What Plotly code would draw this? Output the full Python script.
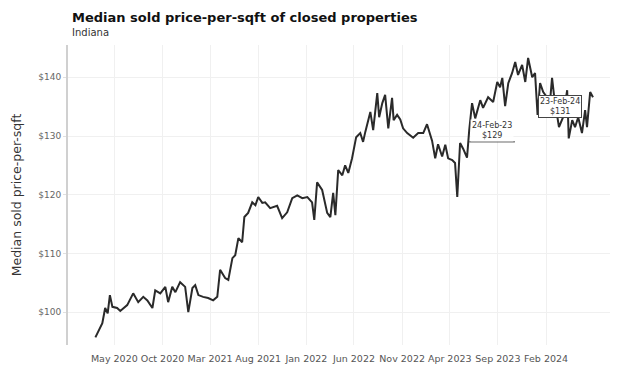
import plotly.graph_objects as go
import pandas as pd

# ---- data ----
dates = [
    "2020-03-02", "2020-03-24", "2020-04-02", "2020-04-10", "2020-04-17", "2020-04-25",
    "2020-05-10", "2020-05-20", "2020-06-11", "2020-06-30", "2020-07-16", "2020-08-01",
    "2020-08-14", "2020-08-30", "2020-09-08", "2020-09-24", "2020-10-10", "2020-10-19",
    "2020-11-01", "2020-11-11", "2020-11-26", "2020-12-12", "2020-12-22", "2021-01-04",
    "2021-01-13", "2021-01-23", "2021-02-07", "2021-02-23", "2021-03-11", "2021-03-24",
    "2021-04-02", "2021-04-18", "2021-04-28", "2021-05-11", "2021-05-20", "2021-05-30",
    "2021-06-11", "2021-06-18", "2021-06-30", "2021-07-13", "2021-07-23", "2021-08-01",
    "2021-08-14", "2021-08-23", "2021-09-08", "2021-09-30", "2021-10-16", "2021-11-01",
    "2021-11-17", "2021-12-03", "2021-12-19", "2022-01-04", "2022-01-19", "2022-01-26",
    "2022-02-04", "2022-02-20", "2022-03-08", "2022-03-18", "2022-03-27", "2022-04-03",
    "2022-04-12", "2022-04-25", "2022-05-04", "2022-05-14", "2022-05-26", "2022-06-08",
    "2022-06-21", "2022-06-30", "2022-07-07", "2022-07-23", "2022-08-01", "2022-08-14",
    "2022-08-20", "2022-08-30", "2022-09-08", "2022-09-18", "2022-09-30", "2022-10-05",
    "2022-10-16", "2022-10-26", "2022-11-04", "2022-11-17", "2022-12-06", "2022-12-22",
    "2023-01-07", "2023-01-19", "2023-02-04", "2023-02-14", "2023-02-23", "2023-03-08",
    "2023-03-18", "2023-03-27", "2023-04-09", "2023-04-18", "2023-04-25", "2023-05-04",
    "2023-05-14", "2023-05-26", "2023-06-02", "2023-06-11", "2023-06-21", "2023-07-07",
    "2023-07-16", "2023-08-01", "2023-08-17", "2023-08-30", "2023-09-08", "2023-09-15",
    "2023-09-24", "2023-10-04", "2023-10-16", "2023-10-26", "2023-11-04", "2023-11-17",
    "2023-11-27", "2023-12-06", "2023-12-19", "2023-12-28", "2024-01-05", "2024-01-13",
    "2024-01-23", "2024-02-04", "2024-02-10", "2024-02-20", "2024-02-27", "2024-03-07",
    "2024-03-13", "2024-03-26", "2024-04-08", "2024-04-13", "2024-04-24", "2024-05-03",
    "2024-05-13", "2024-05-25", "2024-06-04", "2024-06-10", "2024-06-20", "2024-06-29",
]
price_per_sqft = [
    95.7, 98.1, 100.7, 99.8, 102.9, 100.9,
    100.7, 100.2, 101.2, 103.2, 101.7, 102.6,
    102.0, 100.7, 103.7, 103.2, 104.3, 101.7,
    104.3, 103.4, 105.1, 104.3, 100.0, 104.1,
    104.6, 102.9, 102.6, 102.4, 102.0, 102.6,
    107.2, 105.8, 105.5, 109.2, 109.7, 112.6,
    111.9, 116.2, 116.9, 118.7, 118.2, 119.6,
    118.6, 118.7, 117.7, 118.1, 116.0, 117.0,
    119.4, 119.9, 119.4, 119.6, 118.7, 115.7,
    122.1, 120.8, 116.9, 116.2, 120.3, 116.5,
    124.2, 123.3, 125.0, 123.7, 126.2, 129.8,
    130.5, 129.0, 130.7, 134.1, 131.0, 137.3,
    133.2, 135.6, 137.0, 131.3, 136.5, 132.7,
    133.6, 132.8, 131.3, 130.5, 129.7, 130.5,
    130.5, 132.0, 129.2, 126.2, 128.6, 126.5,
    128.5, 126.2, 125.9, 125.4, 119.6, 128.8,
    127.8, 126.3, 131.0, 135.6, 133.0, 136.1,
    134.8, 136.6, 135.8, 139.2, 138.3, 139.9,
    135.1, 139.0, 140.7, 142.6, 140.4, 142.1,
    139.2, 143.3, 140.0, 140.7, 133.6, 139.0,
    137.5, 136.6, 133.6, 139.9, 136.6, 133.6,
    131.5, 133.2, 137.8, 129.6, 132.7, 131.5,
    133.2, 130.5, 134.4, 131.5, 137.5, 136.6,
]

tick_labels = ["May 2020", "Oct 2020", "Mar 2021", "Aug 2021", "Jan 2022",
               "Jun 2022", "Nov 2022", "Apr 2023", "Sep 2023", "Feb 2024"]
y_ticks = [100, 110, 120, 130, 140]

# callouts: label text, value shown, and where they sit on the chart
callout_labels = ["24-Feb-23", "23-Feb-24"]
callout_values = [129, 131]
callout_dates = ["2023-06-02", "2024-01-07"]

title_text = "Median sold price-per-sqft of closed properties"
subtitle_text = "Indiana"
y_title = "Median sold price-per-sqft"

# ---- figure ----
tick_vals = [pd.to_datetime(t, format="%b %Y") for t in tick_labels]
y_tick_text = [f"${v}" for v in y_ticks]

fig = go.Figure()
fig.add_trace(go.Scatter(
    x=pd.to_datetime(dates), y=price_per_sqft, mode="lines",
    line=dict(color="#2a2a2a", width=2), hoverinfo="x+y", showlegend=False,
))

# left callout: underline from its date, text above
d0 = pd.Timestamp(callout_dates[0])
fig.add_shape(type="line", xref="x", yref="y",
              x0=d0, x1=d0 + pd.Timedelta(days=145),
              y0=callout_values[0], y1=callout_values[0],
              line=dict(color="#333333", width=1))
fig.add_annotation(x=d0 + pd.Timedelta(days=72), y=callout_values[0],
                   xref="x", yref="y", yanchor="bottom", xanchor="center",
                   text=f"{callout_labels[0]}<br>${callout_values[0]}",
                   showarrow=False, font=dict(size=8, color="#333333",
                                              family="DejaVu Sans"),
                   bgcolor="rgba(255,255,255,0.85)", borderpad=1)

# right callout: boxed label
d1 = pd.Timestamp(callout_dates[1])
fig.add_annotation(x=d1, y=callout_values[1], xref="x", yref="y",
                   yanchor="bottom", xanchor="left", yshift=12,
                   text=f"{callout_labels[1]}<br>${callout_values[1]}",
                   showarrow=False, font=dict(size=8, color="#333333",
                                              family="DejaVu Sans"),
                   bgcolor="white", bordercolor="#444444", borderwidth=1,
                   borderpad=1)

# title and subtitle
fig.add_annotation(x=0.003, y=1.0, xref="paper", yref="paper", yshift=28,
                   xanchor="left", yanchor="middle", showarrow=False,
                   text=f"<b>{title_text}</b>",
                   font=dict(size=13, color="#111111", family="DejaVu Sans"))
fig.add_annotation(x=0.003, y=1.0, xref="paper", yref="paper", yshift=13,
                   xanchor="left", yanchor="middle", showarrow=False,
                   text=subtitle_text,
                   font=dict(size=10, color="#333333", family="DejaVu Sans"))

# the page body adds an 8px offset, so the figure is 8px smaller each way
fig.update_layout(
    width=615, height=360,
    margin=dict(l=60, r=13, t=37, b=23, autoexpand=False),
    paper_bgcolor="white", plot_bgcolor="white",
    font=dict(family="DejaVu Sans", color="#555555", size=9),
)
fig.update_xaxes(
    range=["2019-12-06", "2024-08-22"],
    tickvals=tick_vals, ticktext=tick_labels,
    showgrid=True, gridcolor="#f0f0f0", gridwidth=1,
    showline=False, zeroline=False, ticks="", automargin=False,
    ticklabelstandoff=6,
    tickfont=dict(size=9.5, color="#555555"),
)
fig.update_yaxes(
    range=[94.4, 145.5],
    tickvals=y_ticks, ticktext=y_tick_text,
    showgrid=True, gridcolor="#f0f0f0", gridwidth=1,
    showline=True, linecolor="#d0d0d0", linewidth=2,
    zeroline=False, ticks="outside", ticklen=3, tickcolor="#e0e0e0",
    automargin=False,
    tickfont=dict(size=9, color="#666666"),
    title=dict(text=y_title, font=dict(size=12.5, color="#333333"), standoff=14),
)

fig.write_html("out.html")
